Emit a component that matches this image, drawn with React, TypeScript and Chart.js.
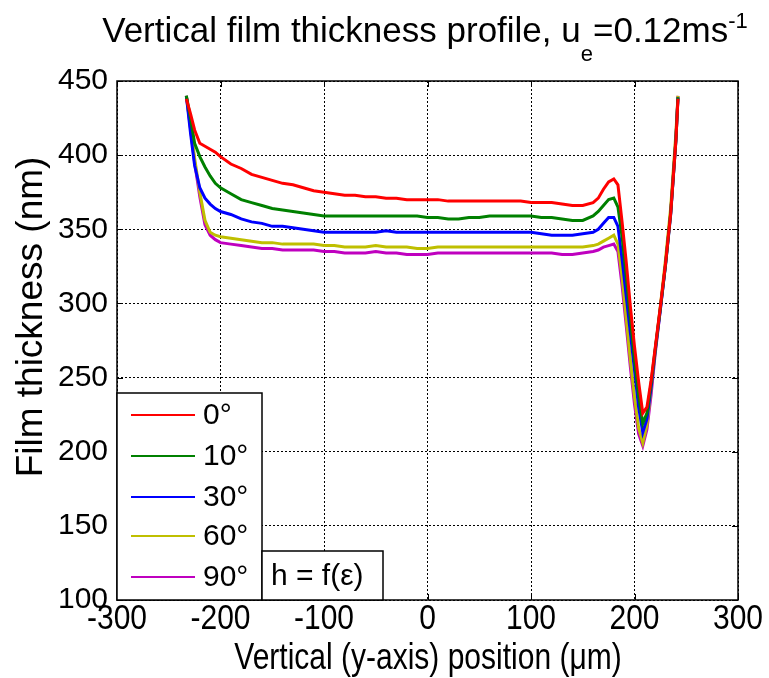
import React, { useEffect, useRef } from "react";
import { Chart, registerables } from "chart.js";

Chart.register(...registerables);

// ---------------- DATA ----------------
const positions = [
  -233, -229, -225, -220, -215, -210, -205, -200, -190, -180, -170, -160, -150, -140, -130, -120, -110, -100,
  -90, -80, -70, -60, -50, -40, -30, -20, -10, 0, 10, 20, 30, 40, 50, 60, 70, 80, 90, 100, 110, 120, 130, 140,
  150, 160, 165, 170, 175, 180, 184, 188, 192, 196, 200, 204, 208, 212, 216, 220, 225, 230, 235, 240, 242,
];

const h0 = [
  438, 428, 417, 408, 406, 404, 402, 399, 394, 391, 387, 385, 383, 381, 380, 378, 376, 375,
  374, 373, 373, 372, 372, 371, 371, 370, 370, 370, 370, 369, 369, 369, 369, 369, 369, 369, 369, 368, 368, 368, 367, 366,
  366, 368, 371, 377, 382, 384, 380, 355, 328, 298, 271, 247, 226, 230, 248, 270, 298, 327, 361, 410, 438,
];

const h10 = [
  440, 425, 408, 399, 392, 386, 381, 378, 374, 370, 368, 366, 364, 363, 362, 361, 360, 359,
  359, 359, 359, 359, 359, 359, 359, 359, 359, 358, 358, 357, 357, 358, 358, 359, 359, 359, 359, 359, 358, 358, 357, 356,
  356, 359, 362, 366, 370, 371, 365, 345, 318, 290, 262, 238, 219, 226, 246, 269, 297, 326, 361, 410, 439,
];

const h30 = [
  440, 415, 393, 378, 371, 367, 364, 362, 360, 357, 355, 354, 352, 352, 351, 350, 349, 348,
  348, 348, 348, 348, 348, 349, 348, 348, 348, 348, 348, 348, 348, 348, 348, 348, 348, 348, 348, 348, 347, 346, 346, 346,
  347, 348, 350, 354, 358, 358, 352, 330, 305, 280, 255, 230, 213, 222, 243, 268, 296, 326, 360, 410, 439,
];

const h60 = [
  440, 420, 398, 375, 356, 348, 346, 345, 344, 343, 342, 341, 341, 340, 340, 340, 340, 339,
  339, 338, 338, 338, 339, 338, 338, 338, 337, 337, 338, 338, 338, 338, 338, 338, 338, 338, 338, 338, 338, 338, 338, 338,
  338, 339, 340, 342, 344, 346, 340, 318, 290, 262, 237, 216, 206, 218, 242, 268, 298, 330, 365, 415, 440,
];

const h90 = [
  440, 418, 395, 372, 353, 346, 343, 341, 340, 339, 338, 337, 337, 336, 336, 336, 336, 335,
  335, 334, 334, 334, 335, 334, 334, 333, 333, 333, 334, 334, 334, 334, 334, 334, 334, 334, 334, 334, 334, 334, 333, 333,
  334, 335, 336, 338, 339, 340, 335, 312, 285, 257, 232, 212, 204, 215, 238, 266, 296, 327, 362, 412, 440,
];

const seriesLabels = ["0°", "10°", "30°", "60°", "90°"];
const seriesColors = ["#ff0000", "#008000", "#0000ff", "#bfbf00", "#bf00bf"];
const seriesValues = [h0, h10, h30, h60, h90];

const xMin = -300;
const xMax = 300;
const xStep = 100;
const yMin = 100;
const yMax = 450;
const yStep = 50;

const titleMain = "Vertical film thickness profile, u";
const titleSub = "e";
const titleMid = "=0.12ms";
const titleSup = "-1";
const xTitle = "Vertical (y-axis) position (\u03bcm)";
const yTitle = "Film thickness (nm)";
const noteText = "h = f(\u03b5)";

const FONT = '"Liberation Sans", Arial, Helvetica, sans-serif';

export default function App() {
  const canvasRef = useRef<HTMLCanvasElement | null>(null);

  useEffect(() => {
    document.body.style.margin = "0";
    const canvas = canvasRef.current;
    if (!canvas) return;

    const decorPlugin = {
      id: "decor",
      afterDraw(chart: any) {
        const ctx = chart.ctx as CanvasRenderingContext2D;
        const area = chart.chartArea;
        const xs = chart.scales.x;
        const ys = chart.scales.y;
        ctx.save();

        // frame
        ctx.strokeStyle = "#000";
        ctx.lineWidth = 1.5;
        ctx.setLineDash([]);
        ctx.strokeRect(area.left, area.top, area.right - area.left, area.bottom - area.top);

        // inward tick marks
        ctx.lineWidth = 1;
        const tl = 6;
        xs.ticks.forEach((t: any) => {
          const px = Math.round(xs.getPixelForValue(t.value)) + 0.5;
          ctx.beginPath();
          ctx.moveTo(px, area.bottom);
          ctx.lineTo(px, area.bottom - tl);
          ctx.moveTo(px, area.top);
          ctx.lineTo(px, area.top + tl);
          ctx.stroke();
        });
        ys.ticks.forEach((t: any) => {
          const py = Math.round(ys.getPixelForValue(t.value)) + 0.5;
          ctx.beginPath();
          ctx.moveTo(area.left, py);
          ctx.lineTo(area.left + tl, py);
          ctx.moveTo(area.right, py);
          ctx.lineTo(area.right - tl, py);
          ctx.stroke();
        });

        // x tick labels (slightly tall glyphs, as in the reference)
        ctx.fillStyle = "#000";
        ctx.font = `30px ${FONT}`;
        ctx.textAlign = "center";
        ctx.textBaseline = "alphabetic";
        xs.ticks.forEach((t: any) => {
          const px = xs.getPixelForValue(t.value);
          ctx.save();
          ctx.translate(px, 629);
          ctx.scale(1, 1.18);
          ctx.fillText(String(t.value), 0, 0);
          ctx.restore();
        });

        // legend box
        const lgL = area.left;
        const lgR = 262;
        const lgT = 393;
        const lgB = area.bottom;
        ctx.fillStyle = "#fff";
        ctx.fillRect(lgL, lgT, lgR - lgL, lgB - lgT);
        ctx.strokeStyle = "#000";
        ctx.lineWidth = 1.5;
        ctx.strokeRect(lgL, lgT, lgR - lgL, lgB - lgT);
        const rowY = [415, 456, 497, 536, 577];
        ctx.font = `30px ${FONT}`;
        ctx.textAlign = "left";
        ctx.textBaseline = "middle";
        seriesLabels.forEach((lab, i) => {
          ctx.strokeStyle = seriesColors[i];
          ctx.lineWidth = 2;
          ctx.beginPath();
          ctx.moveTo(131, rowY[i]);
          ctx.lineTo(195, rowY[i]);
          ctx.stroke();
          ctx.fillStyle = "#000";
          ctx.fillText(lab, 203, rowY[i] + 1);
        });

        // note box
        const nL = 262;
        const nR = 383;
        const nT = 551;
        ctx.fillStyle = "#fff";
        ctx.fillRect(nL, nT, nR - nL, lgB - nT);
        ctx.strokeStyle = "#000";
        ctx.lineWidth = 1.5;
        ctx.strokeRect(nL, nT, nR - nL, lgB - nT);
        ctx.fillStyle = "#000";
        ctx.textAlign = "left";
        ctx.fillText(noteText, 271, 577);

        // x axis title
        ctx.textAlign = "center";
        ctx.textBaseline = "alphabetic";
        ctx.font = `30px ${FONT}`;
        ctx.save();
        ctx.translate(428, 669);
        ctx.scale(1, 1.2);
        ctx.fillText(xTitle, 0, 0);
        ctx.restore();

        // y axis title
        ctx.font = `37px ${FONT}`;
        ctx.save();
        ctx.translate(42, 317);
        ctx.rotate(-Math.PI / 2);
        ctx.fillText(yTitle, 0, 0);
        ctx.restore();

        // title with subscript / superscript
        const big = `35px ${FONT}`;
        const small = `22px ${FONT}`;
        ctx.textBaseline = "alphabetic";
        ctx.textAlign = "left";
        ctx.font = big;
        const w1 = ctx.measureText(titleMain).width;
        const w3 = ctx.measureText(titleMid).width;
        ctx.font = small;
        const w2 = ctx.measureText(titleSub).width;
        const w4 = ctx.measureText(titleSup).width;
        const total = w1 + w2 + w3 + w4;
        let x = 425 - total / 2;
        const base = 42;
        ctx.font = big;
        ctx.fillText(titleMain, x, base);
        x += w1;
        ctx.font = small;
        ctx.fillText(titleSub, x, base + 19);
        x += w2;
        ctx.font = big;
        ctx.fillText(titleMid, x, base);
        x += w3;
        ctx.font = small;
        ctx.fillText(titleSup, x, base - 14);

        ctx.restore();
      },
    };

    const chart = new Chart(canvas, {
      type: "line",
      data: {
        datasets: seriesValues.map((vals, i) => ({
          label: seriesLabels[i],
          data: positions.map((p, j) => ({ x: p, y: vals[j] })),
          borderColor: seriesColors[i],
          backgroundColor: seriesColors[i],
          borderWidth: 3,
          pointRadius: 0,
          tension: 0,
          fill: false,
        })),
      },
      options: {
        responsive: false,
        animation: false,
        layout: { padding: { left: 0, right: 31, top: 81, bottom: 0 } },
        plugins: {
          legend: { display: false },
          title: { display: false },
          tooltip: { enabled: false },
        },
        scales: {
          x: {
            type: "linear",
            min: xMin,
            max: xMax,
            ticks: {
              stepSize: xStep,
              display: false,
            },
            grid: { color: "#000", lineWidth: 1, drawTicks: false },
            border: { display: false, dash: [2, 2] },
            afterFit: (s: any) => {
              s.height = 78;
            },
          },
          y: {
            type: "linear",
            min: yMin,
            max: yMax,
            ticks: {
              stepSize: yStep,
              color: "#000",
              font: { size: 30, family: FONT },
              padding: 9,
            },
            grid: { color: "#000", lineWidth: 1, drawTicks: false },
            border: { display: false, dash: [2, 2] },
            afterFit: (s: any) => {
              s.width = 117;
            },
          },
        },
      },
      plugins: [decorPlugin],
    });

    return () => chart.destroy();
  }, []);

  return (
    <div style={{ width: 769, height: 678, background: "#fff" }}>
      <canvas ref={canvasRef} width={769} height={678} style={{ display: "block" }} />
    </div>
  );
}
